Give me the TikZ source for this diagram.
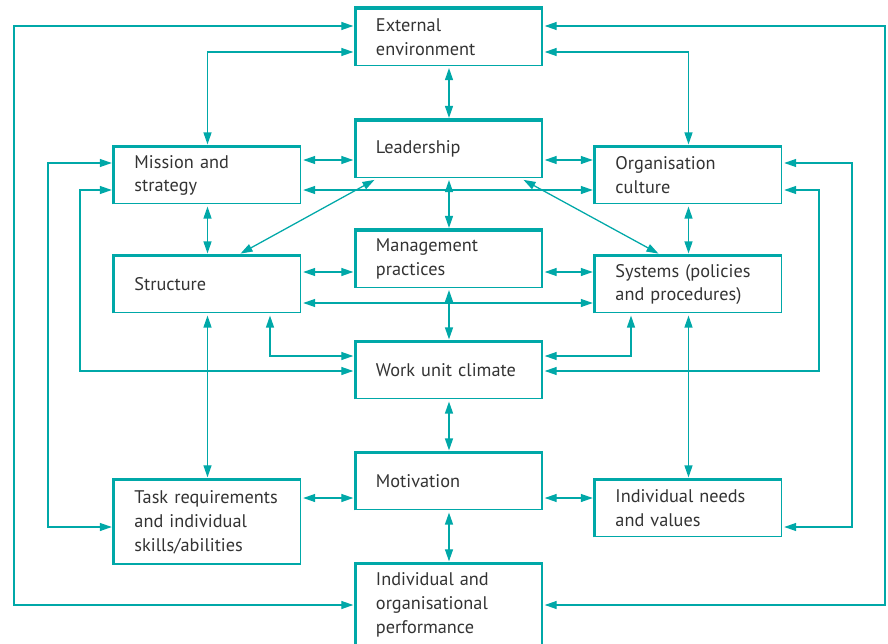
\documentclass[tikz,border=0pt]{standalone}
\usepackage{fontspec}
\setmainfont{PT Sans}
\usetikzlibrary{arrows.meta}

\definecolor{tealline}{RGB}{0,168,168}
\definecolor{textgrey}{RGB}{51,51,51}

\tikzset{
  box/.style={draw=tealline, line width=0.8pt, text=textgrey, align=left,
    text width=3.65cm, inner xsep=0.5cm, minimum height=1.42cm,
    font=\fontsize{13}{17}\selectfont},
  edge/.style={draw=tealline, line width=2.2pt},
  link/.style={draw=tealline, line width=0.9pt,
    {Triangle[length=0.3cm,width=0.2cm]}-{Triangle[length=0.3cm,width=0.2cm]},
    shorten <=1.5pt, shorten >=1.5pt}
}

\begin{document}
\begin{tikzpicture}[x=0.025cm,y=-0.025cm]
\clip (0,0) rectangle (888,644);

% centre column
\node[box] (ext) at (449,37) {External\\environment};
\node[box] (lead) at (449,149) {Leadership};
\node[box] (mgmt) at (449,259) {Management\\practices};
\node[box] (wuc) at (449,370.5) {Work unit climate};
\node[box] (motiv) at (449,481.5) {Motivation};
\node[box, minimum height=2.05cm] (perf) at (449,605) {Individual and\\organisational\\performance};

% left column
\node[box] (mission) at (207.5,175.5) {Mission and\\strategy};
\node[box] (struct) at (207.5,284.5) {Structure};
\node[box, minimum height=2.1cm] (task) at (207.5,522) {Task requirements\\and individual\\skills/abilities};

% right column
\node[box] (org) at (688.5,175.5) {Organisation\\culture};
\node[box] (syst) at (688.5,284.5) {Systems (policies\\and procedures)};
\node[box] (needs) at (688.5,508.5) {Individual needs\\and values};

\foreach \n in {ext,lead,mgmt,wuc,motiv,perf,mission,struct,task,org,syst,needs}
  \draw[edge] (\n.south west) |- (\n.north east);

% outer loops
\draw[link] (ext.west |- 0,26) -| (14,605) -- (perf.west |- 0,605);
\draw[link] (ext.east |- 0,26) -| (885,605) -- (perf.east |- 0,605);
\draw[link] (ext.west |- 0,52) -| (mission.north);
\draw[link] (ext.east |- 0,52) -| (org.north);
\draw[link] (mission.west |- 0,163) -| (48,527) -- (task.west |- 0,527);
\draw[link] (org.east |- 0,163) -| (852,527) -- (needs.east |- 0,527);
\draw[link] (mission.west |- 0,190) -| (80,371) -- (wuc.west |- 0,371);
\draw[link] (org.east |- 0,190) -| (819,371) -- (wuc.east |- 0,371);

% centre spine
\draw[link] (ext.south) -- (lead.north);
\draw[link] (lead.south) -- (mgmt.north);
\draw[link] (mgmt.south) -- (wuc.north);
\draw[link] (wuc.south) -- (motiv.north);
\draw[link] (motiv.south) -- (perf.north);

% rows
\draw[link] (mission.east |- 0,160) -- (lead.west |- 0,160);
\draw[link] (lead.east |- 0,160) -- (org.west |- 0,160);
\draw[link] (mission.east |- 0,190) -- (org.west |- 0,190);
\draw[link] (struct.east |- 0,272) -- (mgmt.west |- 0,272);
\draw[link] (mgmt.east |- 0,272) -- (syst.west |- 0,272);
\draw[link] (struct.east |- 0,303) -- (syst.west |- 0,303);
\draw[link] (task.east |- 0,498) -- (motiv.west |- 0,498);
\draw[link] (motiv.east |- 0,498) -- (needs.west |- 0,498);

% side columns
\draw[link] (mission.south) -- (struct.north);
\draw[link] (org.south) -- (syst.north);
\draw[link] (struct.south) -- (task.north);
\draw[link] (syst.south) -- (needs.north);
\draw[link, shorten <=0.1cm, shorten >=0.1cm] (lead.south -| 378,0) -- (struct.north -| 237,0);
\draw[link, shorten <=0.1cm, shorten >=0.1cm] (lead.south -| 520,0) -- (syst.north -| 662,0);
\draw[link] (struct.south -| 270,0) |- (wuc.west |- 0,356);
\draw[link] (syst.south -| 631,0) |- (wuc.east |- 0,356);
\end{tikzpicture}
\end{document}
